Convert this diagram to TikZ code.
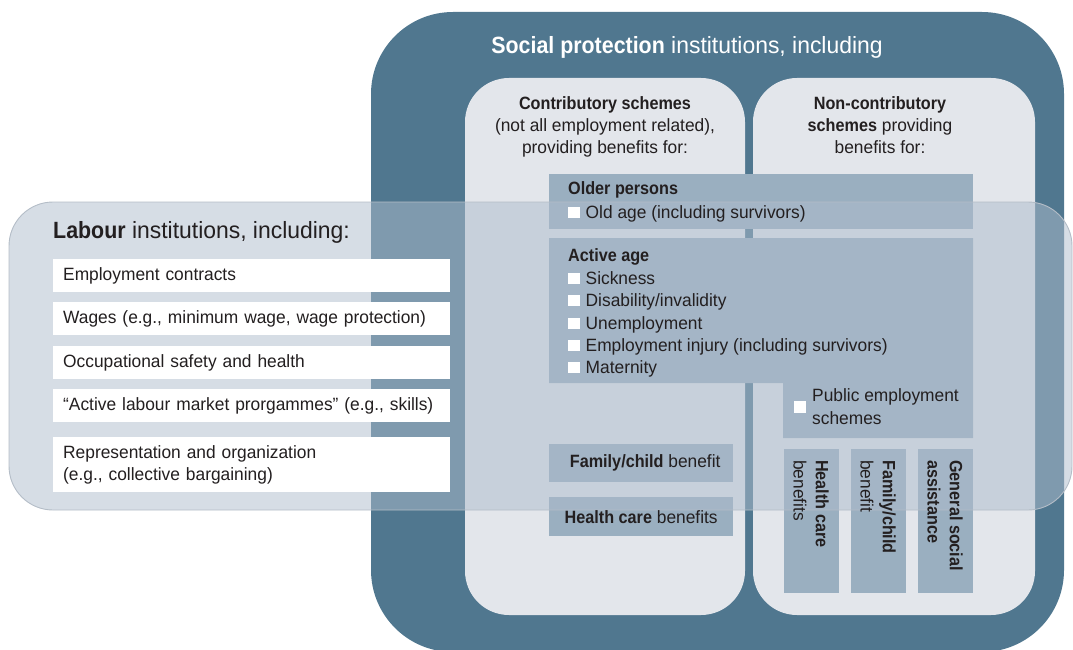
\documentclass[tikz,border=0pt]{standalone}
\usepackage{fontspec}
\setmainfont{Liberation Sans}[FakeStretch=0.975, BoldFeatures={FakeStretch=0.91}]
\usetikzlibrary{positioning}

\definecolor{spdark}{HTML}{50778F}
\definecolor{splight}{HTML}{E3E6EB}
\definecolor{spmid}{HTML}{9AAFC0}
\definecolor{labfill}{HTML}{AEBCCC}
\definecolor{labline}{HTML}{B4BDC7}
\definecolor{txt}{HTML}{231F20}

\newcommand{\bodyfont}{\fontsize{17.8}{22.4}\selectfont}
\newcommand{\titlefont}{\fontsize{23.5}{28}\selectfont}
\newcommand{\sqbox}{\textcolor{white}{\rule{11.5pt}{11.5pt}}\hspace{6pt}}

\tikzset{
  panel/.style={fill=splight, rounded corners=44pt},
  benefit/.style={fill=spmid, draw=none, inner sep=0pt, anchor=north west},
  labitem/.style={fill=white, text=txt, anchor=north west, inner xsep=10pt, inner ysep=0pt,
    minimum width=397pt, text width=377pt, align=left, font=\bodyfont},
  plain/.style={text=txt, inner sep=0pt, font=\bodyfont},
  vlabel/.style={plain, rotate=-90, anchor=north west, align=left},
}

\begin{document}
\begin{tikzpicture}[x=1pt,y=-1pt]
\useasboundingbox (0,0) rectangle (1073,650);

% social protection frame
\fill[spdark, rounded corners=82pt] (371,12) rectangle (1064,652);
\node[text=white, font=\titlefont, anchor=base] (sptitle) at (687,54)
  {\textbf{Social protection} institutions, including};
\fill[panel] (465,78) rectangle (745,615);
\fill[panel] (753,78) rectangle (1035,615);
\node[plain, anchor=north, align=center] (contrib) at (605,96)
  {\textbf{Contributory schemes}\\(not all employment related),\\providing benefits for:};
\node[plain, anchor=north, align=center] (noncontrib) at (880,96)
  {\textbf{Non-contributory}\\\textbf{schemes} providing\\benefits for:};

% benefit boxes
\node[benefit, minimum width=424pt, minimum height=55pt] (older) at (549,174) {};
\fill[spmid] (549,238) -- (973,238) -- (973,438) -- (783,438) -- (783,383) -- (549,383) -- cycle;
\node[benefit, minimum width=184pt, minimum height=38pt] (famben) at (549,444) {};
\node[benefit, minimum width=184pt, minimum height=39pt] (healthben) at (549,497) {};
\foreach \n/\x in {vhealth/784, vfamily/851, vgeneral/918}
  \node[benefit, minimum width=55pt, minimum height=144pt] (\n) at (\x,449) {};

% labour institutions (see-through)
\filldraw[fill=labfill, fill opacity=0.51, draw=labline, line width=0.9pt,
  rounded corners=44pt] (9,202) rectangle (1072,510);
\node[plain, font=\titlefont, anchor=base west] (labtitle) at (53,238)
  {\textbf{Labour} institutions, including:};
\node[labitem, minimum height=33pt] (contracts) at (53,259) {Employment contracts};
\node[labitem, minimum height=33pt] (wages) at (53,302) {Wages (e.g., minimum wage, wage protection)};
\node[labitem, minimum height=33pt] (safety) at (53,346) {Occupational safety and health};
\node[labitem, minimum height=33pt] (almp) at (53,389) {“Active labour market prorgammes” (e.g., skills)};
\node[labitem, minimum height=55pt] (repr) at (53,437)
  {Representation and organization\\(e.g., collective bargaining)};

% texts of the benefit boxes
\node[plain, anchor=base west] (oldertitle) at (568,194) {\textbf{Older persons}};
\node[plain, anchor=base west] (oldage) at (568,218) {\sqbox Old age (including survivors)};
\node[plain, anchor=base west] (activetitle) at (568,261) {\textbf{Active age}};
\node[plain, anchor=base west] (sick) at (568,284) {\sqbox Sickness};
\node[plain, anchor=base west] (disab) at (568,306) {\sqbox Disability/invalidity};
\node[plain, anchor=base west] (unempl) at (568,329) {\sqbox Unemployment};
\node[plain, anchor=base west] (injury) at (568,351) {\sqbox Employment injury (including survivors)};
\node[plain, anchor=base west] (matern) at (568,373) {\sqbox Maternity};
\node[fill=white, inner sep=0pt, minimum size=11.5pt] (pubsq) at (800,407) {};
\node[plain, anchor=base west, align=left] (pubtext) at (812,424) {Public employment\\schemes};
\node[plain, xshift=4pt] (famtext) at (famben.center) {\textbf{Family/child} benefit};
\node[plain] (healthtext) at (healthben.center) {\textbf{Health care} benefits};
\node[vlabel] (vhealthtext) at (829,460) {\textbf{Health care}\\benefits};
\node[vlabel] (vfamilytext) at (896,460) {\textbf{Family/child}\\benefit};
\node[vlabel] (vgeneraltext) at (963,460) {\textbf{General social}\\\textbf{assistance}};
\end{tikzpicture}
\end{document}
